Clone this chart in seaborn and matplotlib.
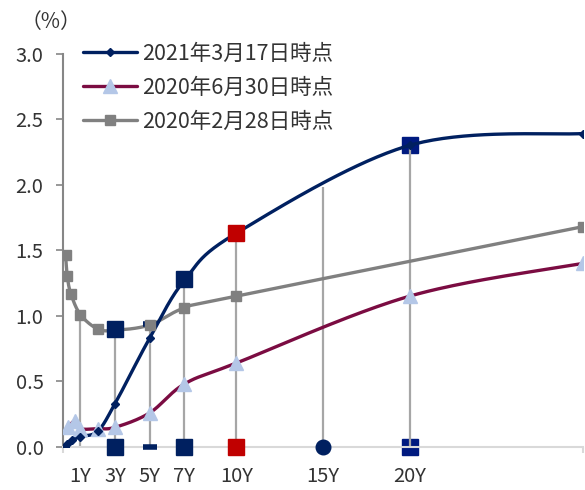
import numpy as np
import matplotlib
matplotlib.use("Agg")
import matplotlib.pyplot as plt
import seaborn as sns
from matplotlib.lines import Line2D

# yield curves (years, %)
x_2021 = [0.1, 0.25, 0.5, 1, 2, 3, 5, 7, 10, 20, 30]
y_2021 = [0.00, 0.02, 0.05, 0.08, 0.12, 0.33, 0.83, 1.27, 1.63, 2.30, 2.39]
x_2020jun = [0.3, 0.7, 1, 2, 3, 5, 7, 10, 20, 30]
y_2020jun = [0.15, 0.20, 0.14, 0.14, 0.15, 0.26, 0.48, 0.64, 1.15, 1.40]
x_2020feb = [0.15, 0.25, 0.45, 1, 2, 3, 5, 7, 10, 30]
y_2020feb = [1.46, 1.30, 1.17, 1.01, 0.90, 0.89, 0.93, 1.06, 1.15, 1.68]

labels = ['2021年3月17日時点', '2020年6月30日時点', '2020年2月28日時点']

# reference drop lines
ref_x = [1, 3, 5, 7, 10, 15, 20]
ref_top = [1.01, 0.90, 0.935, 1.28, 1.63, 1.98, 2.30]
tick_labels = ['1Y', '3Y', '5Y', '7Y', '10Y', '15Y', '20Y']

NAVY = '#002060'
RED = '#C00000'
MAROON = '#7B0C42'
LBLUE = '#B4C7E7'
GRAY = '#808080'
TXT = '#333333'


def smooth(xs, ys, n=40, sx=17.35, sy=131.2):
    # Excel-like smoothed line (bezier through points, done in pixel space)
    p = np.column_stack([np.asarray(xs) * sx, np.asarray(ys) * sy])
    p = np.vstack([p[0], p, p[-1]])
    out = []
    t = np.linspace(0, 1, n)[:, None]
    for i in range(1, len(p) - 2):
        p0, p1, p2, p3 = p[i - 1], p[i], p[i + 1], p[i + 2]
        c1 = p1 + (p2 - p0) / 6
        c2 = p2 - (p3 - p1) / 6
        seg = ((1 - t) ** 3) * p1 + 3 * ((1 - t) ** 2) * t * c1 \
            + 3 * (1 - t) * t ** 2 * c2 + t ** 3 * p2
        out.append(seg)
    out = np.vstack(out)
    return out[:, 0] / sx, out[:, 1] / sy


sns.set_theme(style="white")
plt.rcParams['font.family'] = ['Noto Sans CJK JP', 'DejaVu Sans']

fig = plt.figure(figsize=(5.85, 4.9), dpi=100)
ax = fig.add_axes([63 / 585, 43 / 490, 520 / 585, 393.5 / 490])

ax.vlines(ref_x, 0, ref_top, color='#A6A6A6', lw=1.6, zorder=1.5)

for xs, ys, c in [(x_2020feb, y_2020feb, GRAY),
                  (x_2020jun, y_2020jun, MAROON),
                  (x_2021, y_2021, NAVY)]:
    sx_, sy_ = smooth(xs, ys)
    sns.lineplot(x=sx_, y=sy_, ax=ax, color=c, lw=2.4, sort=False,
                 estimator=None, zorder=2)

ax.plot(x_2020feb, y_2020feb, ls='none', marker='s', ms=6.5, color=GRAY,
        zorder=3)
ax.plot(x_2020jun, y_2020jun, ls='none', marker='^', ms=9.5, color=LBLUE,
        zorder=3)
ax.plot(x_2021, y_2021, ls='none', marker='D', ms=4.5, color=NAVY,
        zorder=3)

# markers on the drop lines
for xx, yy in [(3, 0.90), (7, 1.28), (3, 0), (7, 0)]:
    ax.plot(xx, yy, marker='s', ms=11, color=NAVY, zorder=4, clip_on=False)
for yy in [1.63, 0]:
    ax.plot(10, yy, marker='s', ms=11, color=RED, zorder=4, clip_on=False)
for yy in [0.935, 0]:
    ax.plot(5, yy, marker='_', ms=10, mew=4, color=NAVY, zorder=2.8,
            clip_on=False)
ax.plot(15, 0, marker='o', ms=10.5, color=NAVY, zorder=4, clip_on=False)
for yy in [2.30, 0]:
    ax.plot(20, yy, marker='s', ms=11, color='#001A80', zorder=1.2,
            clip_on=False)

ax.set_xlim(0, 30)
ax.set_ylim(0, 3.0)
ax.set_yticks(np.arange(0, 3.01, 0.5))
ax.set_yticklabels([f'{v:.1f}' for v in np.arange(0, 3.01, 0.5)])
ax.set_xticks(ref_x)
ax.set_xticklabels(tick_labels)
ax.set_xticks([0, 30], minor=True)
ax.set_xlabel('')
ax.set_ylabel('')

ax.tick_params(axis='y', which='major', length=5, width=1.2,
               color='#868686', pad=9, labelsize=14.5, labelcolor=TXT,
               left=True, direction='out')
ax.tick_params(axis='x', which='major', length=0, pad=14, labelsize=14.5,
               labelcolor=TXT)
ax.tick_params(axis='x', which='minor', length=4, width=1.5,
               color='#D9D9D9', bottom=True, direction='out')

for s in ['top', 'right']:
    ax.spines[s].set_visible(False)
ax.spines['left'].set_color('#868686')
ax.spines['left'].set_linewidth(1.5)
ax.spines['bottom'].set_color('#D9D9D9')
ax.spines['bottom'].set_linewidth(1.5)
ax.grid(False)

handles = [
    Line2D([], [], color=NAVY, lw=2.4, marker='D', ms=4.5),
    Line2D([], [], color=MAROON, lw=2.4, marker='^', ms=9.5,
           mfc=LBLUE, mec=LBLUE),
    Line2D([], [], color=GRAY, lw=2.4, marker='s', ms=6.5),
]
ax.legend(handles, labels, loc='upper left', frameon=False,
          bbox_to_anchor=(83 / 585, 1 - 43 / 490),
          bbox_transform=fig.transFigure, borderpad=0, borderaxespad=0,
          handlelength=2.5, handletextpad=0.25, labelspacing=0.55,
          fontsize=15.5, labelcolor=TXT)

fig.text(51 / 585, 1 - 22 / 490, '（%）', ha='center', va='center',
         fontsize=15, color=TXT)

fig.savefig('out.png', dpi=100)
